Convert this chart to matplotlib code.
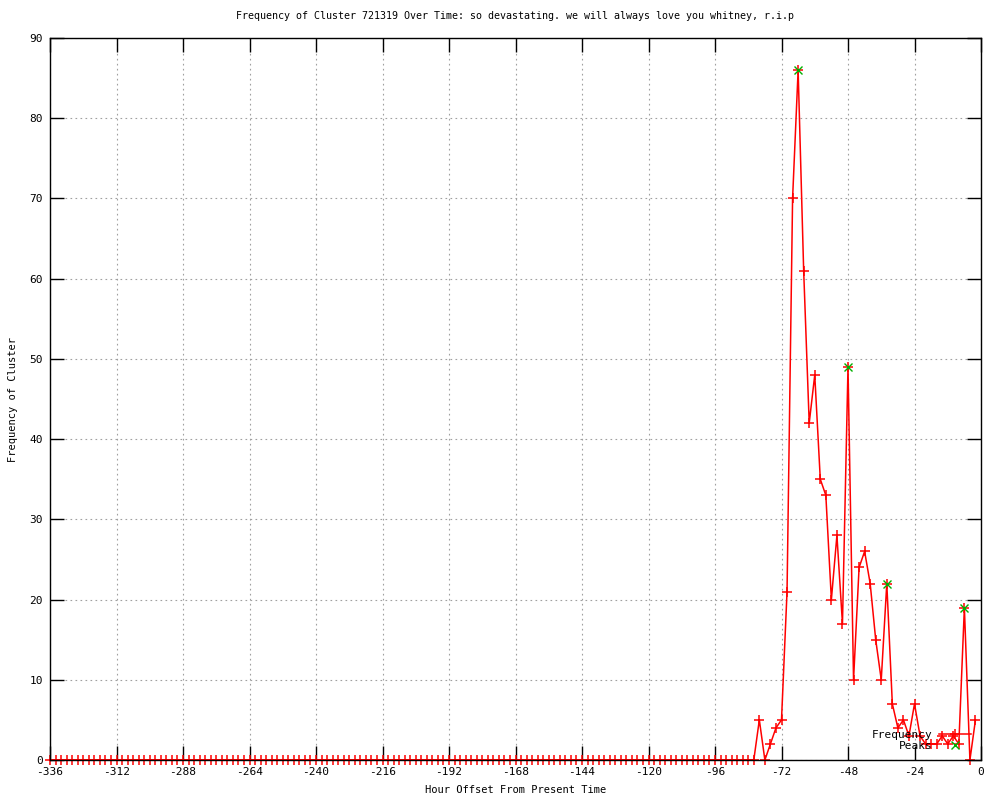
import matplotlib
matplotlib.use('Agg')
import matplotlib.pyplot as plt
import numpy as np

plt.rcParams['font.family'] = 'DejaVu Sans Mono'
plt.rcParams['font.size'] = 8
plt.rcParams['axes.unicode_minus'] = False

# hour offsets, one sample every 2 hours
hours = list(range(-336, 0, 2))
# frequency per sample (all zero before -80)
freq = [0] * 128 + [5, 0, 2, 4, 5, 21, 70, 86, 61, 42,
                    48, 35, 33, 20, 28, 17, 49, 10, 24, 26,
                    22, 15, 10, 22, 7, 4, 5, 3, 7, 3,
                    2, 2, 2, 3, 2, 3, 2, 19, 0, 5]
peak_hours = [-66, -48, -34, -6]
peak_vals = [86, 49, 22, 19]

xticks = list(range(-336, 1, 24))
yticks = list(range(0, 91, 10))

fig = plt.figure(figsize=(10, 8), dpi=100)
ax = fig.add_axes([0.050, 0.050, 0.931, 0.9025])

ax.plot(hours, freq, color='red', lw=1.1, marker='+', ms=7, mew=1.1,
        label='Frequency', clip_on=False)
ax.plot(peak_hours, peak_vals, ls='none', color='#00b000', marker='x',
        ms=6, mew=1.0, label='Peaks', clip_on=False)

ax.set_xlim(-336, 0)
ax.set_ylim(0, 90)
ax.set_xticks(xticks)
ax.set_yticks(yticks)
ax.grid(True, color='#a0a0a0', ls=(0, (1.5, 3)), lw=0.8)
ax.tick_params(direction='in', length=10, width=1, top=True, right=True,
               labelsize=8, pad=5)
for s in ax.spines.values():
    s.set_linewidth(1)

ax.set_title('Frequency of Cluster 721319 Over Time: so devastating. we will always love you whitney, r.i.p',
             fontsize=7.2, pad=14)
ax.set_xlabel('Hour Offset From Present Time', fontsize=7.5, labelpad=6)
ax.set_ylabel('Frequency of Cluster', fontsize=7.5, labelpad=8)

ax.legend(loc='lower right', bbox_to_anchor=(0.999, 0.0), frameon=False,
          markerfirst=False, handlelength=2.9, labelspacing=0.1,
          fontsize=8, handletextpad=0.6, borderpad=0.3)

fig.savefig('out.png', dpi=100)
